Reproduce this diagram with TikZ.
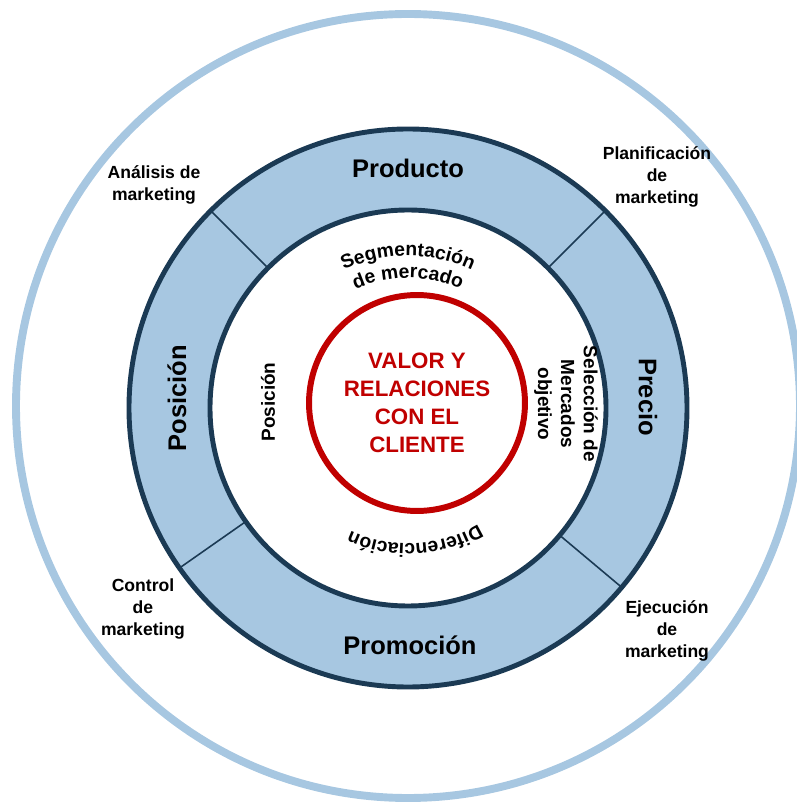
\documentclass[tikz,border=0pt]{standalone}
\usepackage{fontspec}
\setmainfont{Liberation Sans}
\usetikzlibrary{decorations.text}
\definecolor{azulclaro}{HTML}{A7C7E1}
\definecolor{azulosc}{HTML}{1B3A54}
\definecolor{rojo}{HTML}{C00000}
\tikzset{
  etiqueta/.style={font=\bfseries\fontsize{10}{12.5}\selectfont, align=center},
  mezcla/.style={font=\bfseries\fontsize{14.5}{17}\selectfont},
  interno/.style={font=\bfseries\fontsize{10.8}{13}\selectfont, align=center},
  curvo/.style={decorate, decoration={text along path, text align=center,
      text={|\bfseries\fontsize{11}{13}\selectfont|#1}}}
}
\begin{document}
\begin{tikzpicture}[x=0.02cm,y=0.02cm]
	\useasboundingbox (-408,-396) rectangle (389,408);
	\draw[azulclaro, line width=4.5pt] (0,2) circle (392);
	\fill[azulclaro, even odd rule] (0,0) circle (279) (0,0) circle (198);
	\foreach \a in {45,135,215,320}
		\draw[azulosc, line width=0.9pt] (\a:198) -- (\a:279);
	\draw[azulosc, line width=2.8pt] (0,0) circle (279) (0,0) circle (198);

	\node[mezcla] (producto) at (0,240) {Producto};
	\node[mezcla, rotate=-90] (precio) at (240,11) {Precio};
	\node[mezcla] (promocion) at (2,-237) {Promoción};
	\node[mezcla, rotate=90] (posicion) at (-231,10) {Posición};

	\node[draw=rojo, line width=3.4pt, circle, minimum size=4.32cm, inner sep=0pt,
	      text=rojo, font=\bfseries\fontsize{12.7}{15.9}\selectfont, align=center]
	      (valor) at (9,5) {VALOR Y\\RELACIONES\\CON EL\\CLIENTE};

	\path[curvo=Segmentación] (160:152) arc (160:20:152);
	\path[curvo=de mercado] (160:130) arc (160:20:130);
	\path[curvo=Diferenciación] (-47:136) arc (-47:-127:136);
	\node[interno, rotate=-90] (seleccion) at (158,4) {Selección de\\Mercados\\objetivo};
	\node[interno, rotate=90] (posicionint) at (-140,6) {Posición};

	\node[etiqueta] (analisis) at (-254,223) {Análisis de\\marketing};
	\node[etiqueta] (planificacion) at (249,231) {Planificación\\de\\marketing};
	\node[etiqueta] (control) at (-265,-201) {Control\\de\\marketing};
	\node[etiqueta] (ejecucion) at (259,-223) {Ejecución\\de\\marketing};
\end{tikzpicture}
\end{document}
